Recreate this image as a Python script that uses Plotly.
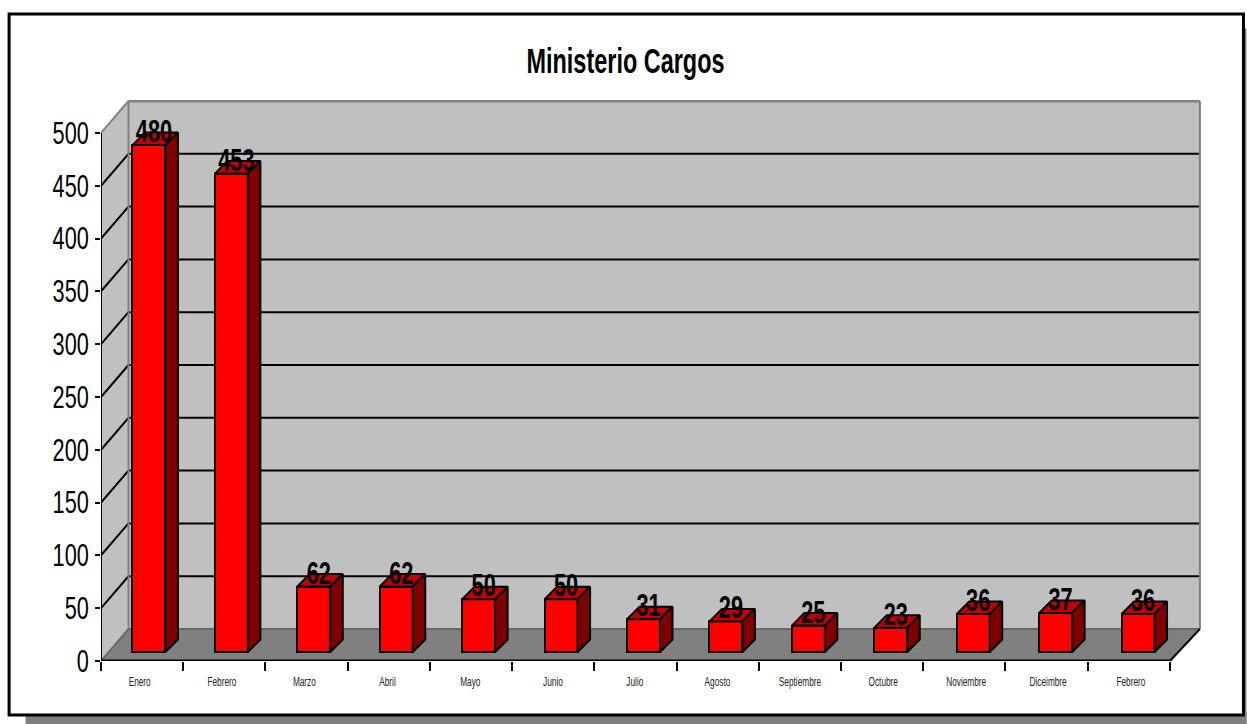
import plotly.graph_objects as go

TITLE = "Ministerio Cargos"
months = ["Enero", "Febrero", "Marzo", "Abril", "Mayo", "Junio", "Julio", "Agosto",
          "Septiembre", "Octubre", "Noviembre", "Diceimbre", "Febrero"]
values = [480, 453, 62, 62, 50, 50, 31, 29, 25, 23, 36, 37, 36]
y_ticks = [0, 50, 100, 150, 200, 250, 300, 350, 400, 450, 500]

W, H = 1247, 724
L, R, T, B = 100.5, 1201.5, 99.5, 661.0      # plot area, px
CAT_PX = 82.3
UNIT_PX = 1.057
XMAX = (R - L) / CAT_PX
YMAX = (B - T) / UNIT_PX
N = len(months)

DX_L, DX_R = 27.5 / CAT_PX, 30.0 / CAT_PX    # depth of walls, axis units
DY = 32.0 / UNIT_PX
BAR_LEFT = 31.5 / CAT_PX
BAR_PITCH = 82.5 / CAT_PX
LABEL_PITCH = 82.67 / CAT_PX
BAR_W = 33.0 / CAT_PX
BAR_BASE = 9.0 / UNIT_PX
SD_X, SD_Y = 12.5 / CAT_PX, 12.5 / UNIT_PX
FONT = "'Liberation Sans', Arial, sans-serif"

px = lambda v: v / (R - L) - L / (R - L)
py = lambda v: (B - v) / (B - T)


def box(x0, y0, x1, y1, fill, line=None, lw=0):
    return dict(type="rect", xref="paper", yref="paper", x0=px(x0), x1=px(x1), y0=py(y0), y1=py(y1),
                fillcolor=fill, line=dict(color=line, width=lw) if line else dict(width=0), layer="below")


def poly(points, fill, line="rgba(0,0,0,0)", lw=0):
    path = "M " + " L ".join(f"{a},{b}" for a, b in points) + " Z"
    return dict(type="path", xref="x", yref="y", path=path, fillcolor=fill,
                line=dict(color=line, width=lw), layer="below")


def seg(x0, y0, x1, y1, color="#000000", lw=2):
    return dict(type="line", xref="x", yref="y", x0=x0, y0=y0, x1=x1, y1=y1,
                line=dict(color=color, width=lw), layer="below")


top = y_ticks[-1]
shapes = [
    box(25, 712, 1247, 724, "#808080"),
    box(1240, 28, 1247, 724, "#808080"),
    box(8.5, 13.5, 1244, 715, "#ffffff", "#000000", 3),
    # left wall, back wall, floor
    poly([(0, 0), (DX_L, DY), (DX_L, top + DY), (0, top)], "#c0c0c0"),
    poly([(DX_L, DY), (N + DX_R, DY), (N + DX_R, top + DY), (DX_L, top + DY)], "#c0c0c0"),
    poly([(0, 0), (N, 0), (N + DX_R, DY), (DX_L, DY)], "#808080"),
]
for t in y_ticks[1:-1]:
    shapes.append(seg(0, t, DX_L, t + DY))
    shapes.append(seg(DX_L, t + DY, N + DX_R, t + DY))
shapes += [
    seg(DX_L, top + DY, N + DX_R, top + DY, "#808080", 3),
    seg(DX_L, DY, DX_L, top + DY, "#808080", 2),
    seg(N + DX_R, DY, N + DX_R, top + DY, "#808080", 2),
    seg(0, top, DX_L, top + DY, "#808080", 2),
    seg(0, 0, DX_L, DY, "#666666", 2),
    seg(DX_L, DY, N + DX_R, DY, "#666666", 2),
    seg(N, 0, N + DX_R, DY, "#000000", 2),
    seg(0, 0, 0, top, "#000000", 2),
    seg(0, 0, N, 0, "#000000", 3),
]

fig = go.Figure()

lefts = [i * BAR_PITCH + BAR_LEFT for i in range(N)]
fig.add_trace(go.Bar(
    x=[a + BAR_W / 2 for a in lefts], y=values, base=BAR_BASE, width=BAR_W,
    marker=dict(color="#ff0000", line=dict(color="#000000", width=2)),
    hoverinfo="x+y", showlegend=False,
))

for a, v in zip(lefts, values):
    b = a + BAR_W
    y0, y1 = BAR_BASE, BAR_BASE + v
    fig.add_trace(go.Scatter(
        x=[a, a + SD_X, b + SD_X, b, a], y=[y1, y1 + SD_Y, y1 + SD_Y, y1, y1],
        mode="lines", fill="toself", fillcolor="#c00000",
        line=dict(color="#000000", width=2), hoverinfo="skip", showlegend=False))
    fig.add_trace(go.Scatter(
        x=[b, b + SD_X, b + SD_X, b, b], y=[y0, y0 + SD_Y, y1 + SD_Y, y1, y0],
        mode="lines", fill="toself", fillcolor="#800000",
        line=dict(color="#000000", width=2), hoverinfo="skip", showlegend=False))

fig.add_trace(go.Scatter(
    x=[a + BAR_W / 2 + 5.0 / CAT_PX for a in lefts],
    y=[BAR_BASE + v + 11 / UNIT_PX for v in values],
    text=[str(v) for v in values], mode="text", textposition="middle center",
    textfont=dict(family=FONT, size=32, color="#000000", weight="bold"),
    hoverinfo="skip", showlegend=False))

annotations = [
    dict(x=0.47 + i * LABEL_PITCH, y=0, xref="x", yref="y", yshift=-21, text=m, showarrow=False,
         xanchor="center", yanchor="middle", font=dict(family=FONT, size=12.5, color="#222222"))
    for i, m in enumerate(months)
]

fig.update_layout(
    width=W, height=H, autosize=False, showlegend=False,
    margin=dict(l=L, r=W - R, t=T, b=H - B, pad=0),
    paper_bgcolor="#ffffff", plot_bgcolor="rgba(0,0,0,0)",
    title=dict(text=TITLE, x=625.5 / W, xanchor="center", y=1 - 61 / H, yanchor="middle",
               font=dict(family=FONT, size=35, color="#000000", weight="bold")),
    xaxis=dict(range=[0, XMAX], tickmode="array", tickvals=list(range(N + 1)), ticktext=[""] * (N + 1),
               showgrid=False, zeroline=False, showline=False, ticks="outside", ticklen=9,
               tickwidth=2, tickcolor="#000000"),
    yaxis=dict(range=[0, YMAX], tickmode="array", tickvals=y_ticks, ticktext=[str(t) for t in y_ticks],
               showgrid=False, zeroline=False, showline=False, ticks="outside", ticklen=5,
               tickwidth=2, tickcolor="#000000",
               tickfont=dict(family=FONT, size=31, color="#000000")),
    shapes=shapes, annotations=annotations, bargap=0,
)

# No condensed face is installed: squeeze the real text the way the original's narrow type looks.
NARROW_JS = """
document.body.style.margin='0';document.body.style.overflow='hidden';
var squeeze=function(sel,k){document.querySelectorAll(sel).forEach(function(t){
  t.setAttribute('textLength',t.getComputedTextLength()*k);
  t.setAttribute('lengthAdjust','spacingAndGlyphs');});};
squeeze('.gtitle',0.67);
squeeze('.ytick text',0.70);
squeeze('.textpoint text',0.68);
squeeze('.annotation-text',0.66);
"""
fig.write_html("out.html", config={"displayModeBar": False}, post_script=NARROW_JS)
